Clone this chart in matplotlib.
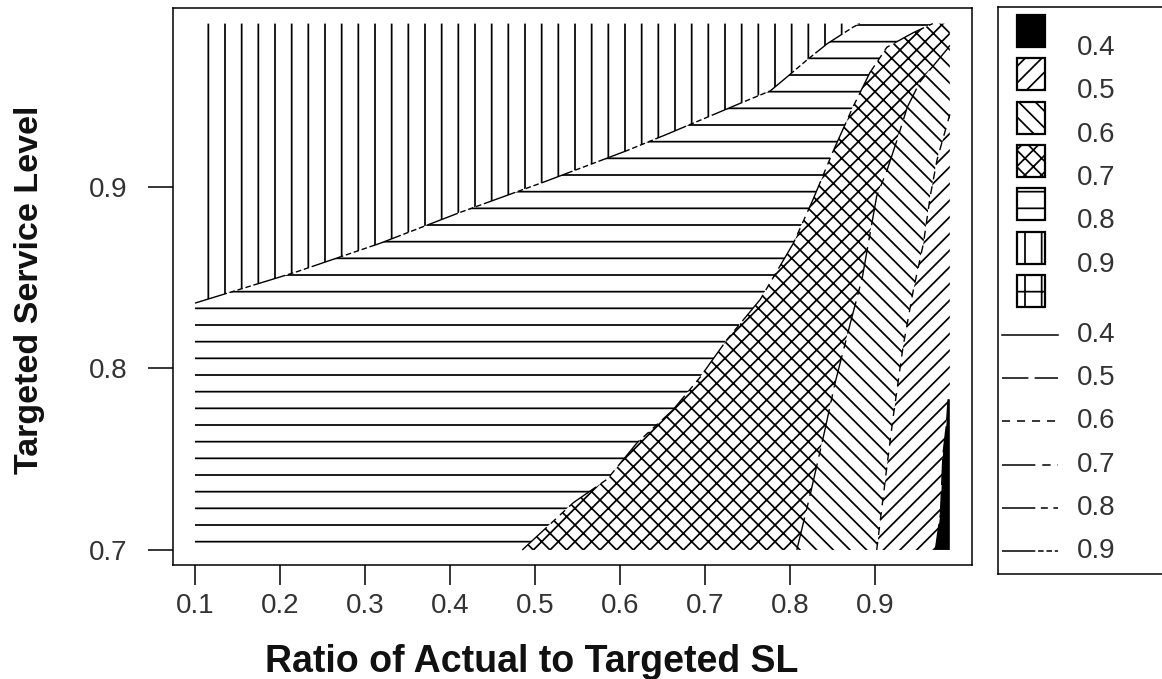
import numpy as np
import matplotlib.pyplot as plt
from matplotlib.patches import Rectangle

plt.rcParams['font.family'] = ['Liberation Sans', 'DejaVu Sans']
plt.rcParams['hatch.linewidth'] = 1.25
plt.rcParams['lines.scale_dashes'] = False

# Contour boundaries (x = ratio, y = targeted SL)
b09_x = [0.100, 0.218, 0.318, 0.412, 0.512, 0.608, 0.655, 0.741, 0.777, 0.800, 0.820, 0.844, 0.874, 0.882]
b09_y = [0.836, 0.853, 0.869, 0.886, 0.903, 0.920, 0.929, 0.946, 0.953, 0.962, 0.970, 0.979, 0.988, 0.990]
b08_x = [0.485, 0.545, 0.585, 0.620, 0.662, 0.694, 0.726, 0.765, 0.804, 0.827, 0.851, 0.874, 0.894, 0.914, 0.945, 0.968]
b08_y = [0.700, 0.726, 0.739, 0.759, 0.777, 0.795, 0.816, 0.838, 0.869, 0.893, 0.920, 0.944, 0.963, 0.977, 0.985, 0.990]
b07_x = [0.808, 0.824, 0.841, 0.853, 0.871, 0.885, 0.902, 0.914, 0.926, 0.938, 0.953, 0.985, 0.988]
b07_y = [0.700, 0.731, 0.766, 0.792, 0.825, 0.850, 0.895, 0.909, 0.926, 0.944, 0.958, 0.976, 0.978]
b06_x = [0.902, 0.914, 0.921, 0.933, 0.945, 0.957, 0.965, 0.973, 0.985, 0.988]
b06_y = [0.700, 0.746, 0.772, 0.812, 0.843, 0.869, 0.895, 0.915, 0.935, 0.940]
b05_x = [0.971, 0.977, 0.980, 0.984, 0.986]
b05_y = [0.700, 0.720, 0.753, 0.769, 0.783]

x_lo, x_hi = 0.10, 0.988
y_lo, y_hi = 0.70, 0.990

fill_levels = ['0.4', '0.5', '0.6', '0.7', '0.8', '0.9']
fill_hatches = ['', '//', '\\\\', 'xx', '-', '|', '+']
line_levels = ['0.4', '0.5', '0.6', '0.7', '0.8', '0.9']
line_styles = ['-', (0, (19, 4.5)), (0, (5.8, 5)), (0, (24, 5, 6, 5)),
               (0, (24, 4, 5, 4, 5, 4)), (0, (24, 2, 4, 2, 4, 2, 4, 2))]

x_ticks = [0.1, 0.2, 0.3, 0.4, 0.5, 0.6, 0.7, 0.8, 0.9]
y_ticks = [0.7, 0.8, 0.9]

W, H = 1162, 679
fig = plt.figure(figsize=(W / 100, H / 100), dpi=100)
ax = fig.add_axes([173 / W, 1 - 565 / H, (972 - 173) / W, (565 - 8) / H])

def rev(a):
    return list(a)[::-1]

# regions, from the highest band down to the black sliver
regions = [
    (b09_x + [x_lo], b09_y + [y_hi], '|', 'white'),
    ([x_lo] + b09_x + rev(b08_x), [y_lo] + b09_y + rev(b08_y), '-', 'white'),
    (b08_x + [x_hi] + rev(b07_x), b08_y + [y_hi] + rev(b07_y), 'xx', 'white'),
    (b07_x + rev(b06_x), b07_y + rev(b06_y), '\\\\', 'white'),
    (b06_x + [x_hi] + rev(b05_x), b06_y + [b05_y[-1]] + rev(b05_y), '//', 'white'),
    (b05_x + [x_hi, x_hi], b05_y + [b05_y[-1], y_lo], '', 'black'),
]
for xs, ys, h, fc in regions:
    ax.fill(xs, ys, facecolor=fc, edgecolor='black', hatch=h, linewidth=0)

# contour lines on the boundaries
for bx, by, ls in [(b09_x, b09_y, line_styles[5]), (b08_x, b08_y, line_styles[4]),
                   (b07_x, b07_y, line_styles[3]), (b06_x, b06_y, line_styles[2]),
                   (b05_x, b05_y, line_styles[1])]:
    ax.plot(bx, by, color='black', lw=1.0, linestyle=ls)

ax.set_xlim(0.0741, 1.0141)
ax.set_ylim(0.6917, 0.9986)
ax.set_xticks(x_ticks)
ax.set_xticklabels([f'{v:.1f}' for v in x_ticks])
ax.set_yticks(y_ticks)
ax.set_yticklabels([f'{v:.1f}' for v in y_ticks])
ax.tick_params(axis='x', direction='out', length=14.4, width=1.1, pad=6,
               labelsize=20, labelcolor='#333333')
ax.tick_params(axis='y', direction='out', length=18, width=1.1, pad=15,
               labelsize=20, labelcolor='#333333')
for s in ax.spines.values():
    s.set_linewidth(1.1)

fig.text(532 / W, 1 - 672 / H, 'Ratio of Actual to Targeted SL', ha='center',
         va='baseline', fontsize=27, fontweight='bold', color='#111111')
fig.text(30 / W, 1 - 290 / H, 'Targeted Service Level', ha='center', va='center',
         rotation=90, fontsize=24.5, fontweight='bold', color='#111111')

# legend box (pixel coordinates inside it)
lax = fig.add_axes([998 / W, 1 - 574 / H, 172 / W, 567 / H])
lax.set_xlim(998, 1170)
lax.set_ylim(574, 7)
lax.set_xticks([])
lax.set_yticks([])
for s in lax.spines.values():
    s.set_linewidth(1.1)

for i, h in enumerate(fill_hatches):
    top = 15 + 43.3 * i
    fc = 'black' if i == 0 else 'white'
    lax.add_patch(Rectangle((1017, top), 28, 32, facecolor=fc, edgecolor='black',
                            hatch=h, linewidth=1.6))
for i, lab in enumerate(fill_levels):
    lax.text(1077, 15 + 43.3 * i + 33, lab, ha='left', va='center',
             fontsize=20, color='#333333')

for i, (lab, ls) in enumerate(zip(line_levels, line_styles)):
    yy = 335 + 43.2 * i
    lax.plot([1002, 1058], [yy, yy], color='black', lw=1.1, linestyle=ls)
    lax.text(1077, yy, lab, ha='left', va='center', fontsize=20, color='#333333')

fig.savefig('out.png', dpi=100)
